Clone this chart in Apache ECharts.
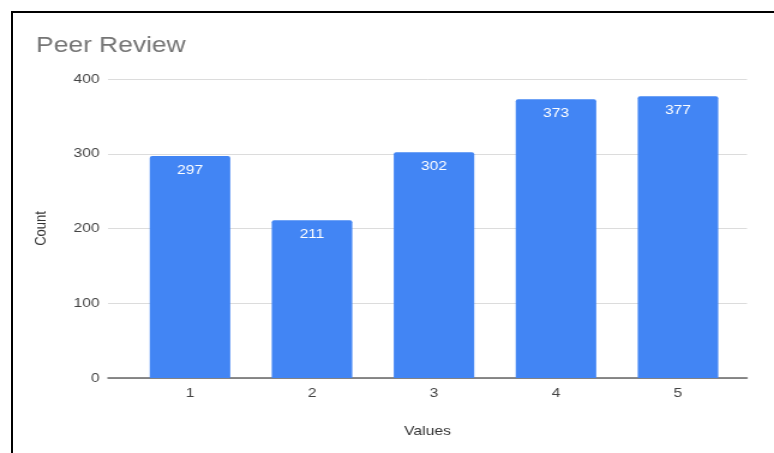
<!DOCTYPE html>
<html>
<head>
<meta charset="utf-8">
<script src="https://cdn.jsdelivr.net/npm/echarts@6/dist/echarts.min.js"></script>
<style>
html,body{margin:0;padding:0;background:#fff;overflow:hidden;}
#frame{position:absolute;left:11px;top:11px;width:770px;height:450px;border-left:2px solid #000;border-top:2px solid #000;}
#chart{position:absolute;left:0;top:0;width:645px;height:453px;transform:scaleX(1.2);transform-origin:0 0;}
</style>
</head>
<body>
<div id="frame"></div>
<div id="chart"></div>
<script>
const categories = ['1', '2', '3', '4', '5'];
const counts = [297, 211, 302, 373, 377];
const yTicks = [0, 100, 200, 300, 400];

const FONT = 'Liberation Sans, Arial, sans-serif';
const chart = echarts.init(document.getElementById('chart'), null, {renderer: 'canvas'});
chart.setOption({
  backgroundColor: 'transparent',
  animation: false,
  title: {
    text: 'Peer Review',
    left: 25, top: 30,
    textStyle: {color: '#757575', fontSize: 22, fontWeight: 'normal', fontFamily: FONT}
  },
  grid: [
    {left: 90, right: 22.5, top: 79, bottom: 75},
    {left: 107.5, right: 29.2, top: 79, bottom: 75}
  ],
  xAxis: [{
    gridIndex: 0,
    type: 'category',
    data: categories,
    name: 'Values',
    nameLocation: 'middle',
    nameGap: 47,
    nameTextStyle: {color: '#333', fontSize: 13, fontFamily: FONT},
    axisLine: {lineStyle: {color: '#666', width: 1.5}},
    axisTick: {show: false},
    axisLabel: {show: false}
  }, {
    gridIndex: 1,
    type: 'category',
    data: categories,
    axisLine: {show: false},
    axisTick: {show: false},
    axisLabel: {color: '#444', fontSize: 13, margin: 9, fontFamily: FONT}
  }],
  yAxis: [{
    gridIndex: 0,
    type: 'value',
    min: yTicks[0], max: yTicks[yTicks.length - 1], interval: 100,
    name: 'Count',
    nameLocation: 'middle',
    nameGap: 49,
    nameTextStyle: {color: '#333', fontSize: 13, fontFamily: FONT},
    axisLine: {show: false},
    axisTick: {show: false},
    axisLabel: {color: '#444', fontSize: 13, margin: 7, fontFamily: FONT},
    splitLine: {lineStyle: {color: '#dcdcdc', width: 1}}
  }, {
    gridIndex: 1,
    type: 'value',
    min: yTicks[0], max: yTicks[yTicks.length - 1], interval: 100,
    show: false,
    splitLine: {show: false}
  }],
  series: [{
    type: 'bar',
    xAxisIndex: 1,
    yAxisIndex: 1,
    data: counts,
    barCategoryGap: '34%',
    itemStyle: {color: '#4285f4', borderRadius: [2, 2, 0, 0]},
    label: {
      show: true, position: 'insideTop', distance: 8,
      color: '#fff', fontSize: 13, fontFamily: FONT
    }
  }]
});
</script>
</body>
</html>
